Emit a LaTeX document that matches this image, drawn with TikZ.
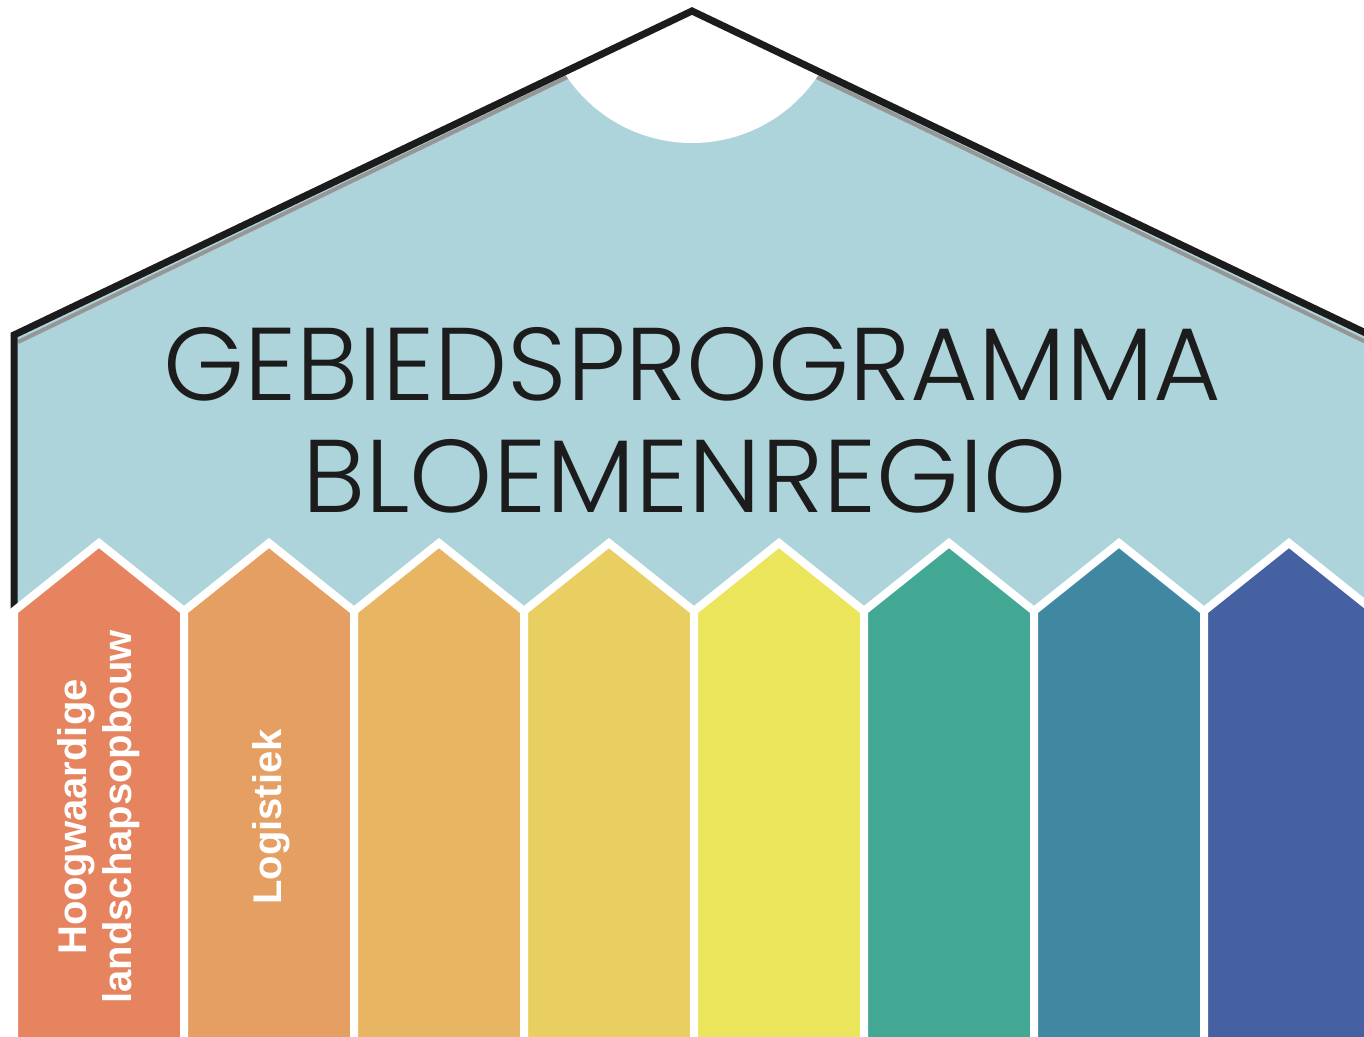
\documentclass[tikz,border=0pt]{standalone}
\usepackage{fontspec}
\usepackage{graphicx}
\setmainfont{Liberation Sans}
\newfontfamily\titlefont{Poppins Light}
\definecolor{skyb}{RGB}{173,211,219}
\definecolor{roofgray}{RGB}{150,150,150}
\definecolor{roofblack}{RGB}{28,28,28}
\definecolor{colA}{RGB}{229,132,95}
\definecolor{colB}{RGB}{230,159,99}
\definecolor{colC}{RGB}{232,182,98}
\definecolor{colD}{RGB}{233,207,97}
\definecolor{colE}{RGB}{234,229,91}
\definecolor{colF}{RGB}{67,168,147}
\definecolor{colG}{RGB}{64,136,162}
\definecolor{colH}{RGB}{70,97,161}
\tikzset{
  roofline/.style={draw=roofblack, line width=7pt, line join=miter},
  shadowline/.style={draw=roofgray, line width=4pt},
  pillar/.style={draw=white, line width=8pt, line join=miter},
  titletext/.style={inner sep=0pt, text=roofblack, font=\titlefont},
  pillartext/.style={inner sep=0pt, text=white, font=\fontsize{40}{44}\selectfont\bfseries, rotate=90, anchor=base},
}
\begin{document}
\begin{tikzpicture}[x=1pt,y=-1pt]
\useasboundingbox (0,0) rectangle (1364,1036);
\clip (0,0) rectangle (1364,1036);
% house body
\fill[skyb] (14,335) -- (692,11) -- (1370,335) -- (1370,1050) -- (14,1050) -- cycle;
\draw[shadowline] (18,342) -- (692,17) -- (1366,342);
\fill[white] (692,-8.4) circle (151.4);
\draw[roofline] (14,615) -- (14,335) -- (692,11) -- (1372,336);
% pillars
\foreach \i/\c in {0/colA,1/colB,2/colC,3/colD,4/colE,5/colF,6/colG,7/colH}{
  \pgfmathsetmacro\cx{99+170*\i}
  \filldraw[pillar, fill=\c] (\cx-85,1060) -- (\cx-85,611) -- (\cx,543) -- (\cx+85,611) -- (\cx+85,1060) -- cycle;
}
% title
\node[titletext, anchor=base west] (t1) at (163,400) {\resizebox{1058pt}{73pt}{GEBIEDSPROGRAMMA}};
\node[titletext, anchor=base west] (t2) at (302,512) {\resizebox{764pt}{73pt}{BLOEMENREGIO}};
% labels
\node[pillartext] (h1) at (86,817) {Hoogwaardige};
\node[pillartext] (h2) at (131,817) {landschapsopbouw};
\node[pillartext] (l1) at (281,817) {Logistiek};
\end{tikzpicture}
\end{document}
